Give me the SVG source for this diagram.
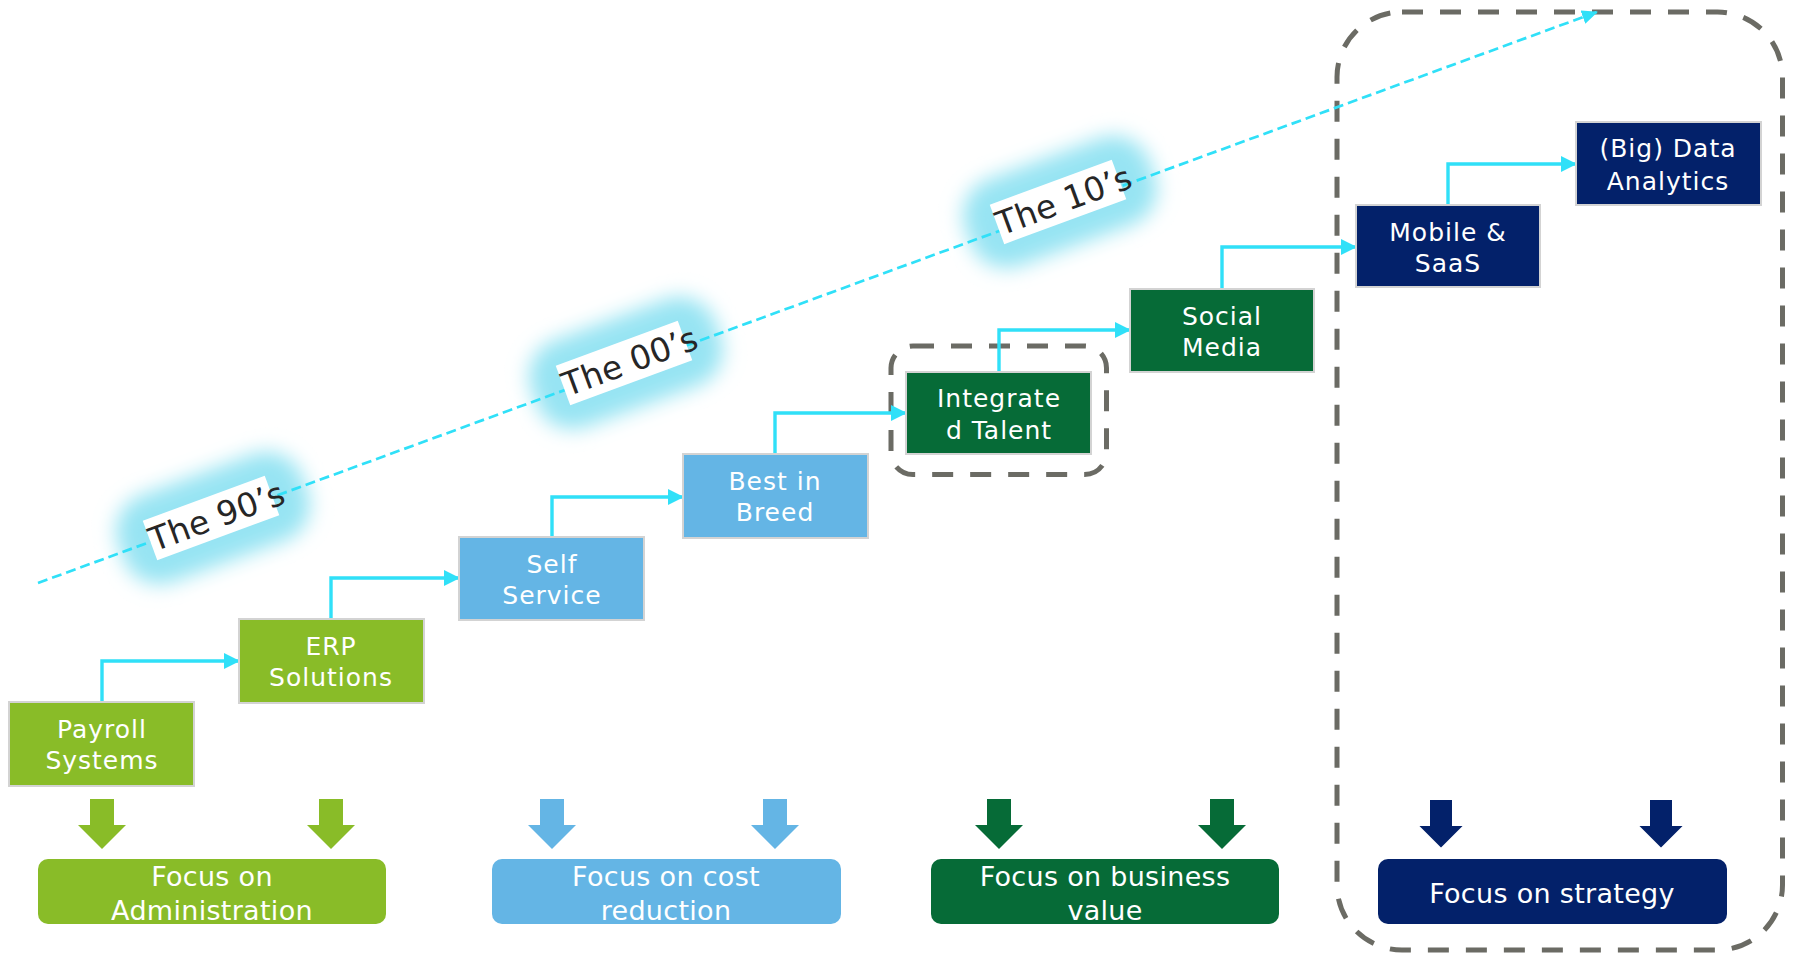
<svg xmlns="http://www.w3.org/2000/svg" width="1793" height="953" viewBox="0 0 1793 953">
  <defs>
    <style>
      .box { stroke: #d3d3d3; stroke-width: 2; }
      .lg { fill: #89bc28; }
      .bl { fill: #64b5e5; }
      .dg { fill: #066b37; }
      .nv { fill: #03216a; }
      .btxt { font-family: "DejaVu Sans", Verdana, sans-serif; font-size: 25px; letter-spacing: 1px; fill: #ffffff; text-anchor: middle; }
      .ftxt { font-family: "DejaVu Sans", Verdana, sans-serif; font-size: 27px; letter-spacing: 0.3px; fill: #ffffff; text-anchor: middle; }
      .era { font-family: "DejaVu Sans", Verdana, sans-serif; font-size: 33px; fill: #262626; text-anchor: middle; }
      .conn { fill: none; stroke: #30e0f8; stroke-width: 3.4; marker-end: url(#arr); }
      .dash { fill: none; stroke: #6b6b64; stroke-width: 5; stroke-dasharray: 21 17; }
      .glow { fill: #97e4f3; filter: url(#soft); }
    </style>
    <marker id="arr" markerUnits="userSpaceOnUse" markerWidth="16" markerHeight="16" refX="15" refY="8" orient="auto">
      <path d="M0,0 L16,8 L0,16 z" fill="#30e0f8"/>
    </marker>
    <marker id="tip" markerUnits="userSpaceOnUse" markerWidth="16" markerHeight="14" refX="15" refY="7" orient="auto">
      <path d="M0,0 L16,7 L0,14 z" fill="#30e0f8"/>
    </marker>
    <filter id="soft" x="-50%" y="-80%" width="200%" height="260%">
      <feGaussianBlur stdDeviation="10"/>
    </filter>
  </defs>

  <rect width="1793" height="953" fill="#ffffff"/>

  <!-- current-era panel -->
  <rect x="1337" y="12" width="445.5" height="938" rx="65" fill="#f0f0f0" class="dash"/>
  <!-- highlight around Integrated Talent -->
  <rect x="891" y="346" width="215.5" height="128.5" rx="22" class="dash"/>

  <!-- era glows -->
  <g id="glows">
    <rect x="-98" y="-46" width="196" height="92" rx="38" class="glow" transform="translate(213 518) rotate(-20.2)"/>
    <rect x="-98" y="-46" width="196" height="92" rx="38" class="glow" transform="translate(626 363) rotate(-20.2)"/>
    <rect x="-98" y="-46" width="196" height="92" rx="38" class="glow" transform="translate(1060 202) rotate(-20.2)"/>
  </g>

  <!-- timeline -->
  <g id="timeline">
    <line x1="38" y1="583" x2="1597" y2="12" stroke="#30e0f8" stroke-width="2.7" stroke-dasharray="10 5" marker-end="url(#tip)"/>
  </g>

  <!-- era labels -->
  <g id="era-90s" transform="translate(211 518) rotate(-20.2)">
    <rect x="-65" y="-21" width="130" height="42" fill="#ffffff"/>
    <text x="6" y="12" class="era">The 90’s</text>
  </g>
  <g id="era-00s" transform="translate(624 363) rotate(-20.2)">
    <rect x="-65" y="-21" width="130" height="42" fill="#ffffff"/>
    <text x="6" y="12" class="era">The 00’s</text>
  </g>
  <g id="era-10s" transform="translate(1058 202) rotate(-20.2)">
    <rect x="-65" y="-21" width="130" height="42" fill="#ffffff"/>
    <text x="6" y="12" class="era">The 10’s</text>
  </g>

  <!-- step connectors -->
  <g id="connectors">
    <polyline class="conn" points="102,702 102,661 239,661"/>
    <polyline class="conn" points="331,619 331,578 459,578"/>
    <polyline class="conn" points="552,537 552,497 683,497"/>
    <polyline class="conn" points="775,454 775,413 906,413"/>
    <polyline class="conn" points="999,372 999,330 1130,330"/>
    <polyline class="conn" points="1222,289 1222,247 1356,247"/>
    <polyline class="conn" points="1448,205 1448,164 1576,164"/>
  </g>

  <!-- milestones -->
  <g id="payroll">
    <rect x="9" y="702" width="185" height="84" class="box lg"/>
    <text x="102" y="738" class="btxt">Payroll</text>
    <text x="102" y="769" class="btxt">Systems</text>
  </g>
  <g id="erp">
    <rect x="239" y="619" width="185" height="84" class="box lg"/>
    <text x="331" y="655" class="btxt">ERP</text>
    <text x="331" y="686" class="btxt">Solutions</text>
  </g>
  <g id="self-service">
    <rect x="459" y="537" width="185" height="83" class="box bl"/>
    <text x="552" y="573" class="btxt">Self</text>
    <text x="552" y="604" class="btxt">Service</text>
  </g>
  <g id="best-in-breed">
    <rect x="683" y="454" width="185" height="84" class="box bl"/>
    <text x="775" y="490" class="btxt">Best in</text>
    <text x="775" y="521" class="btxt">Breed</text>
  </g>
  <g id="integrated-talent">
    <rect x="906" y="372" width="185" height="82" class="box dg"/>
    <text x="999" y="407" class="btxt">Integrate</text>
    <text x="999" y="439" class="btxt">d Talent</text>
  </g>
  <g id="social-media">
    <rect x="1130" y="289" width="184" height="83" class="box dg"/>
    <text x="1222" y="325" class="btxt">Social</text>
    <text x="1222" y="356" class="btxt">Media</text>
  </g>
  <g id="mobile-saas">
    <rect x="1356" y="205" width="184" height="82" class="box nv"/>
    <text x="1448" y="241" class="btxt">Mobile &amp;</text>
    <text x="1448" y="272" class="btxt">SaaS</text>
  </g>
  <g id="big-data">
    <rect x="1576" y="122" width="185" height="83" class="box nv"/>
    <text x="1668" y="157" class="btxt">(Big) Data</text>
    <text x="1668" y="190" class="btxt">Analytics</text>
  </g>

  <!-- focus arrows -->
  <g id="focus-arrows">
    <polygon class="lg" points="90,799 114,799 114,825 126,825 102,849 78,825 90,825"/>
    <polygon class="lg" points="319,799 343,799 343,825 355,825 331,849 307,825 319,825"/>
    <polygon class="bl" points="540,799 564,799 564,825 576,825 552,849 528,825 540,825"/>
    <polygon class="bl" points="763,799 787,799 787,825 799,825 775,849 751,825 763,825"/>
    <polygon class="dg" points="987,799 1011,799 1011,825 1023,825 999,849 975,825 987,825"/>
    <polygon class="dg" points="1210,799 1234,799 1234,825 1246,825 1222,849 1198,825 1210,825"/>
    <polygon class="nv" stroke="#ffffff" stroke-width="2" points="1429,799 1453,799 1453,825 1465,825 1441,849 1417,825 1429,825"/>
    <polygon class="nv" stroke="#ffffff" stroke-width="2" points="1649,799 1673,799 1673,825 1685,825 1661,849 1637,825 1649,825"/>
  </g>

  <!-- focus bars -->
  <g id="focus-admin">
    <rect x="38" y="859" width="348" height="65" rx="10" class="lg"/>
    <text x="212" y="886" class="ftxt">Focus on</text>
    <text x="212" y="920" class="ftxt">Administration</text>
  </g>
  <g id="focus-cost">
    <rect x="492" y="859" width="349" height="65" rx="10" class="bl"/>
    <text x="666" y="886" class="ftxt">Focus on cost</text>
    <text x="666" y="920" class="ftxt">reduction</text>
  </g>
  <g id="focus-business">
    <rect x="931" y="859" width="348" height="65" rx="10" class="dg"/>
    <text x="1105" y="886" class="ftxt">Focus on business</text>
    <text x="1105" y="920" class="ftxt">value</text>
  </g>
  <g id="focus-strategy">
    <rect x="1378" y="859" width="349" height="65" rx="10" class="nv"/>
    <text x="1552" y="903" class="ftxt">Focus on strategy</text>
  </g>
</svg>
